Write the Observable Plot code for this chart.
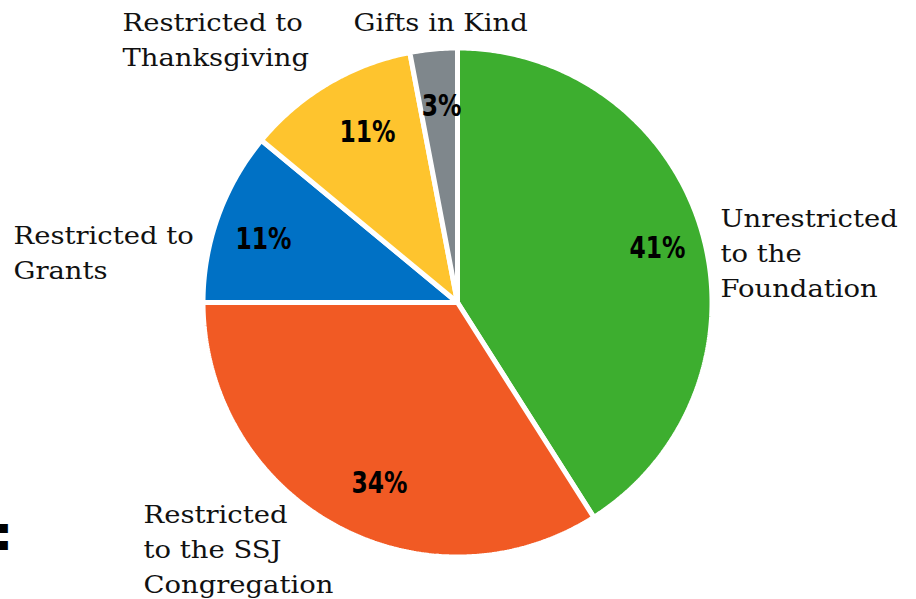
<!DOCTYPE html>
<html>
<head>
<meta charset="utf-8">
<script src="https://cdn.jsdelivr.net/npm/d3@7"></script>
<script src="https://cdn.jsdelivr.net/npm/@observablehq/plot@0.6"></script>
<style>
  html, body { margin: 0; padding: 0; background: #fff; }
  #chart svg { display: block; }
</style>
</head>
<body>
<div id="chart"></div>
<script>
// ---- data ----
const categories = [
  "Unrestricted to the Foundation",
  "Restricted to the SSJ Congregation",
  "Restricted to Grants",
  "Restricted to Thanksgiving",
  "Gifts in Kind"
];
const shares = [41, 34, 11, 11, 3];
const colors = ["#3dae2f", "#f15a24", "#0071c5", "#fec42e", "#7f878c"];
const labelLines = [
  ["Unrestricted", "to the", "Foundation"],
  ["Restricted", "to the SSJ", "Congregation"],
  ["Restricted to", "Grants"],
  ["Restricted to", "Thanksgiving"],
  ["Gifts in Kind"]
];

// ---- layout (pixels) ----
const W = 916, H = 599;
const cx = 457, cy = 302, R = 254.5;
const pctPos = [[657, 248], [379, 483], [263, 239], [367, 132], [441, 106]];
const labelPos = [[720, 226], [143, 522], [13, 243], [122, 30], [353, 30]];
const lineH = 35;

// build slice polygons from shares
const total = d3.sum(shares);
const slices = [];
let acc = 0;
categories.forEach((c, i) => {
  const a0 = acc / total * 2 * Math.PI;
  acc += shares[i];
  const a1 = acc / total * 2 * Math.PI;
  slices.push({cat: c, x: cx, y: cy});
  const n = Math.max(4, Math.ceil((a1 - a0) / 0.01));
  for (let k = 0; k <= n; k++) {
    const a = a0 + (a1 - a0) * k / n;
    slices.push({cat: c, x: cx + R * Math.sin(a), y: cy - R * Math.cos(a)});
  }
});

const pctData = categories.map((c, i) => ({cat: c, text: shares[i] + "%", x: pctPos[i][0], y: pctPos[i][1]}));
const lblData = [];
categories.forEach((c, i) => {
  labelLines[i].forEach((t, j) => lblData.push({text: t, x: labelPos[i][0], y: labelPos[i][1] + j * lineH}));
});

const chart = Plot.plot({
  width: W,
  height: H,
  margin: 0,
  x: {domain: [0, W], range: [0, W], axis: null},
  y: {domain: [0, H], range: [0, H], axis: null},
  color: {domain: categories, range: colors},
  style: {background: "#fff"},
  marks: [
    Plot.line(slices, {x: "x", y: "y", z: "cat", fill: "cat", stroke: "#fff", strokeWidth: 5, strokeLinejoin: "miter", curve: "linear-closed"}),
    Plot.text(pctData, {x: "x", y: "y", text: "text", fill: "#000", fontSize: 30, fontWeight: "bold",
      fontFamily: "'DejaVu Sans', sans-serif", textAnchor: "middle", lineAnchor: "middle", className: "pct"}),
    Plot.text(lblData, {x: "x", y: "y", text: "text", fill: "#111", fontSize: 24.5,
      fontFamily: "'DejaVu Serif', serif", textAnchor: "start", lineAnchor: "bottom", className: "lbl"}),
    Plot.text([{t: ":"}], {x: () => 3, y: () => 549, text: "t", fill: "#000", fontSize: 48, fontWeight: "bold",
      fontFamily: "'DejaVu Sans', sans-serif", textAnchor: "middle", lineAnchor: "bottom"})
  ]
});
document.getElementById("chart").appendChild(chart);

// horizontal condense / stretch of text to imitate the original typefaces
function squeeze(sel, sx, anchor) {
  d3.select(chart).selectAll(sel + " text").each(function () {
    const b = this.getBBox();
    const ax = anchor === "start" ? b.x : b.x + b.width / 2;
    const t = this.getAttribute("transform") || "";
    this.setAttribute("transform", `${t} translate(${ax},0) scale(${sx},1) translate(${-ax},0)`);
  });
}
squeeze(".pct", 0.78, "middle");
squeeze(".lbl", 1.12, "start");
</script>
</body>
</html>
